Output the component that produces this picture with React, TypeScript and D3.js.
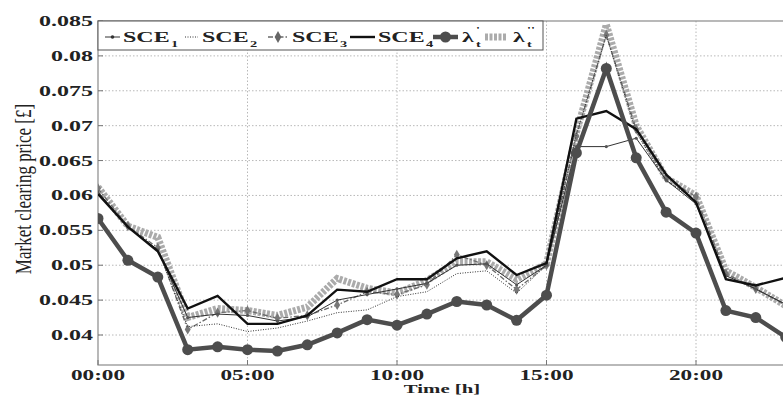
import React, { useEffect, useRef } from "react";
import * as d3 from "d3";

// hours of the day (x categories)
const hours = [0, 1, 2, 3, 4, 5, 6, 7, 8, 9, 10, 11, 12, 13, 14, 15, 16, 17, 18, 19, 20, 21, 22, 23];

// market clearing prices
const sce1 = [0.0605, 0.0555, 0.0522, 0.0425, 0.0430, 0.0428, 0.0420, 0.0426, 0.0450, 0.0458, 0.0466, 0.0474,
  0.0500, 0.0502, 0.0472, 0.0500, 0.0670, 0.0670, 0.0682, 0.0622, 0.0588, 0.0485, 0.0466, 0.0444];
const sce2 = [0.0605, 0.0555, 0.0522, 0.0412, 0.0416, 0.0405, 0.0410, 0.0420, 0.0432, 0.0436, 0.0455, 0.0462,
  0.0488, 0.0492, 0.0460, 0.0500, 0.0688, 0.0830, 0.0690, 0.0622, 0.0592, 0.0485, 0.0466, 0.0443];
const sce3 = [0.0610, 0.0556, 0.0525, 0.0408, 0.0432, 0.0435, 0.0424, 0.0428, 0.0443, 0.0462, 0.0458, 0.0472,
  0.0515, 0.0500, 0.0465, 0.0500, 0.0685, 0.0830, 0.0695, 0.0625, 0.0598, 0.0488, 0.0466, 0.0443];
const sce4 = [0.0602, 0.0555, 0.0520, 0.0438, 0.0456, 0.0416, 0.0416, 0.0428, 0.0465, 0.0462, 0.0480, 0.0480,
  0.0510, 0.0520, 0.0486, 0.0503, 0.0710, 0.0721, 0.0695, 0.0630, 0.0590, 0.0480, 0.0471, 0.0482];
const lambda1 = [0.0567, 0.0507, 0.0483, 0.0379, 0.0383, 0.0379, 0.0377, 0.0386, 0.0403, 0.0422, 0.0414, 0.0430,
  0.0448, 0.0443, 0.0421, 0.0457, 0.0661, 0.0782, 0.0654, 0.0576, 0.0546, 0.0435, 0.0425, 0.0397];
const lambda2 = [0.0612, 0.0556, 0.0540, 0.0425, 0.0438, 0.0435, 0.0428, 0.0440, 0.0481, 0.0467, 0.0460, 0.0478,
  0.0505, 0.0505, 0.0480, 0.0502, 0.0690, 0.0845, 0.0700, 0.0625, 0.0600, 0.0492, 0.0468, 0.0442];

// ticks
const yTicks = [0.04, 0.045, 0.05, 0.055, 0.06, 0.065, 0.07, 0.075, 0.08, 0.085];
const yTickLabels = ["0.04", "0.045", "0.05", "0.055", "0.06", "0.065", "0.07", "0.075", "0.08", "0.085"];
const xTicks = [0, 5, 10, 15, 20];
const xTickLabels = ["00:00", "05:00", "10:00", "15:00", "20:00"];

const W = 783;
const H = 397;
const SX = 1.6; // the picture is stretched sideways, so is its text
const FONT = "'Liberation Serif', 'Times New Roman', serif";

function draw(el: SVGSVGElement) {
  const svg = d3.select(el);
  svg.selectAll("*").remove();

  const left = 98, top = 21, bottom = 365;
  const x = d3.scaleLinear().domain([0, 23]).range([left, left + 23 * 29.9]);
  const y = d3.scaleLinear().domain([0.04, 0.085]).range([335, top]);

  svg.append("rect").attr("width", W).attr("height", H).attr("fill", "#fff");

  svg.append("defs").append("clipPath").attr("id", "plot")
    .append("rect").attr("x", left).attr("y", top - 4).attr("width", W - left).attr("height", bottom - top + 4);

  // grid
  svg.append("g").selectAll("line").data(yTicks.slice(0, -1)).enter().append("line")
    .attr("x1", left).attr("x2", W).attr("y1", d => y(d)).attr("y2", d => y(d))
    .attr("stroke", "#b8b8b8").attr("stroke-width", 1).attr("stroke-dasharray", "1.5,2");
  svg.append("g").selectAll("line").data(xTicks.slice(1)).enter().append("line")
    .attr("x1", d => x(d)).attr("x2", d => x(d)).attr("y1", top).attr("y2", bottom)
    .attr("stroke", "#b8b8b8").attr("stroke-width", 1).attr("stroke-dasharray", "1.5,2");

  // frame
  svg.append("rect").attr("x", left).attr("y", top).attr("width", W - left + 20).attr("height", bottom - top)
    .attr("fill", "none").attr("stroke", "#8a8a8a").attr("stroke-width", 1.2);
  svg.append("g").selectAll("line").data(yTicks).enter().append("line")
    .attr("x1", left).attr("x2", left + 5).attr("y1", d => y(d)).attr("y2", d => y(d))
    .attr("stroke", "#777");
  svg.append("g").selectAll("line").data(xTicks).enter().append("line")
    .attr("x1", d => x(d)).attr("x2", d => x(d)).attr("y1", bottom).attr("y2", bottom - 5)
    .attr("stroke", "#777");

  // tick labels
  svg.append("g").selectAll("text").data(yTicks).enter().append("text")
    .attr("transform", d => `translate(93,${y(d) + 5}) scale(${SX},1)`)
    .attr("text-anchor", "end").attr("font-family", FONT).attr("font-weight", "bold")
    .attr("font-size", 15).attr("fill", "#222")
    .text((d, i) => yTickLabels[i]);
  svg.append("g").selectAll("text").data(xTicks).enter().append("text")
    .attr("transform", d => `translate(${x(d)},380) scale(${SX},1)`)
    .attr("text-anchor", "middle").attr("font-family", FONT).attr("font-weight", "bold")
    .attr("font-size", 14.5).attr("fill", "#222")
    .text((d, i) => xTickLabels[i]);

  // axis names
  svg.append("text").attr("transform", `translate(442,393) scale(${SX},1)`)
    .attr("text-anchor", "middle").attr("font-family", FONT).attr("font-weight", "bold")
    .attr("font-size", 13).attr("fill", "#222").text("Time [h]");
  svg.append("text").attr("transform", `translate(31,189) scale(1.3,1) rotate(-90)`)
    .attr("text-anchor", "middle").attr("font-family", FONT)
    .attr("font-size", 17).attr("fill", "#222").text("Market clearing price [£]");

  const line = d3.line<number>().x((d, i) => x(hours[i])).y(d => y(d));
  const plot = svg.append("g").attr("clip-path", "url(#plot)");

  // λt''
  plot.append("path").datum(lambda2).attr("fill", "none").attr("stroke", "#ababab")
    .attr("stroke-width", 7).attr("stroke-dasharray", "3,1.5").attr("d", line);
  // SCE3
  plot.append("path").datum(sce3).attr("fill", "none").attr("stroke", "#6a6a6a")
    .attr("stroke-width", 1.3).attr("stroke-dasharray", "5,2,1.5,2").attr("d", line);
  plot.selectAll(".dia").data(sce3).enter().append("path").attr("class", "dia")
    .attr("transform", (d, i) => `translate(${x(hours[i])},${y(d)})`)
    .attr("d", d3.symbol().type(d3.symbolDiamond).size(30)).attr("fill", "#777");
  // SCE2
  plot.append("path").datum(sce2).attr("fill", "none").attr("stroke", "#333")
    .attr("stroke-width", 1).attr("stroke-dasharray", "1,1.5").attr("d", line);
  // SCE1
  plot.append("path").datum(sce1).attr("fill", "none").attr("stroke", "#333")
    .attr("stroke-width", 1).attr("d", line);
  plot.selectAll(".dot1").data(sce1).enter().append("circle").attr("class", "dot1")
    .attr("cx", (d, i) => x(hours[i])).attr("cy", d => y(d)).attr("r", 1.6).attr("fill", "#555");
  // SCE4
  plot.append("path").datum(sce4).attr("fill", "none").attr("stroke", "#111")
    .attr("stroke-width", 2.4).attr("d", line);
  // λt'
  plot.append("path").datum(lambda1).attr("fill", "none").attr("stroke", "#4d4d4d")
    .attr("stroke-width", 4.5).attr("d", line);
  plot.selectAll(".dotl").data(lambda1).enter().append("circle").attr("class", "dotl")
    .attr("cx", (d, i) => x(hours[i])).attr("cy", d => y(d)).attr("r", 5.5).attr("fill", "#4d4d4d");

  // legend
  const lg = svg.append("g");
  lg.append("rect").attr("x", left).attr("y", top).attr("width", 445).attr("height", 29)
    .attr("fill", "#fff").attr("stroke", "#555").attr("stroke-width", 1);
  const ly = 37;
  const sample = (x1: number, x2: number, stroke: string, w: number, dash: string | null) =>
    lg.append("line").attr("x1", x1).attr("x2", x2).attr("y1", ly).attr("y2", ly)
      .attr("stroke", stroke).attr("stroke-width", w).attr("stroke-dasharray", dash);
  const label = (tx: number, main: string, sub: string, sup: string) => {
    const mainW = main === "SCE" ? 47 : 13;
    lg.append("text").attr("transform", `translate(${tx},42) scale(${SX},1)`)
      .attr("font-family", FONT).attr("font-weight", "bold").attr("font-size", 15).attr("fill", "#222")
      .text(main);
    lg.append("text").attr("transform", `translate(${tx + mainW + 1},47) scale(${SX},1)`)
      .attr("font-family", FONT).attr("font-weight", "bold").attr("font-size", 9).attr("fill", "#222")
      .text(sub);
    if (sup) lg.append("text").attr("transform", `translate(${tx + mainW + 1},33) scale(${SX},1)`)
      .attr("font-family", FONT).attr("font-weight", "bold").attr("font-size", 9).attr("fill", "#222")
      .text(sup);
  };
  sample(105, 120, "#333", 1, null);
  lg.append("circle").attr("cx", 112.5).attr("cy", ly).attr("r", 1.8).attr("fill", "#333");
  label(123, "SCE", "1", "");
  sample(185, 198, "#333", 1, "1,1.5");
  label(202, "SCE", "2", "");
  sample(268, 288, "#6a6a6a", 1.3, "5,2,1.5,2");
  lg.append("path").attr("transform", `translate(278,${ly})`)
    .attr("d", d3.symbol().type(d3.symbolDiamond).size(40)).attr("fill", "#666");
  label(292, "SCE", "3", "");
  sample(350, 375, "#111", 2.4, null);
  label(378, "SCE", "4", "");
  sample(433, 458, "#4d4d4d", 4.5, null);
  lg.append("circle").attr("cx", 445.5).attr("cy", ly).attr("r", 5.5).attr("fill", "#4d4d4d");
  label(462, "λ", "t", "'");
  sample(485, 506, "#ababab", 7, "3,1.5");
  label(513, "λ", "t", "''");
}

export default function App() {
  const ref = useRef<SVGSVGElement>(null);
  useEffect(() => {
    if (ref.current) draw(ref.current);
  }, []);
  return (
    <svg ref={ref} width={W} height={H}
      style={{ position: "absolute", left: 0, top: 0, display: "block" }} />
  );
}
